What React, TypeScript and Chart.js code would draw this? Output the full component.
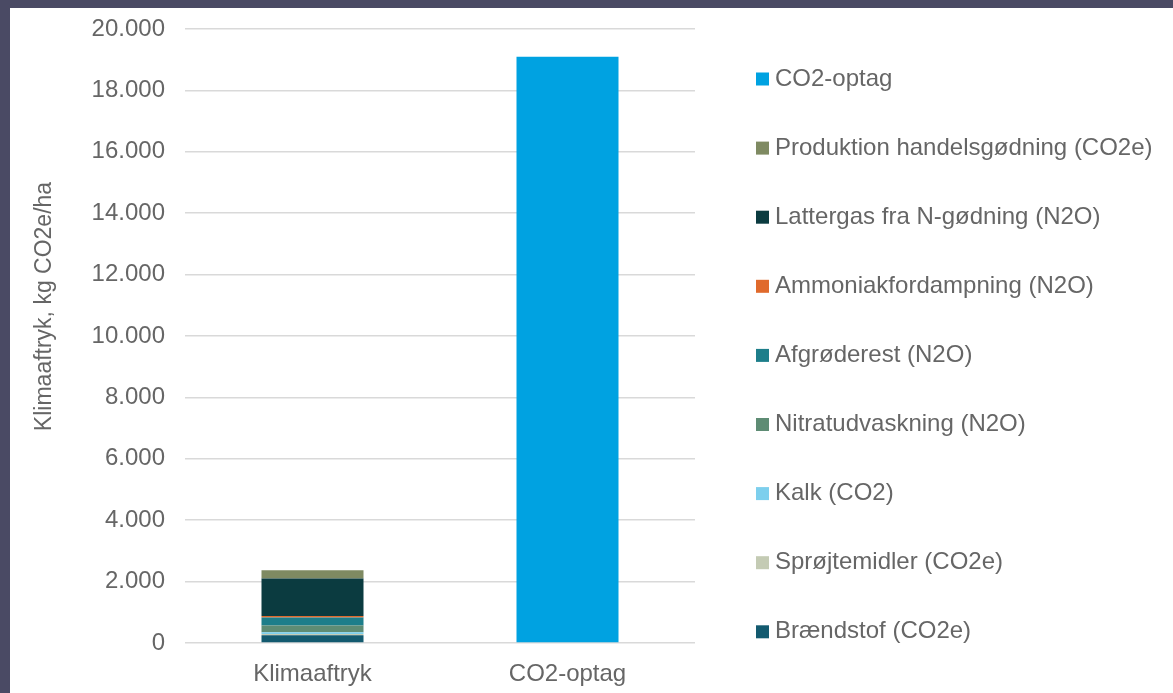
import React, { useEffect, useRef } from 'react';
import { Chart, registerables } from 'chart.js';

Chart.register(...registerables);

const categories = ['Klimaaftryk', 'CO2-optag'];

const seriesLabels = [
  'Brændstof (CO2e)',
  'Sprøjtemidler (CO2e)',
  'Kalk (CO2)',
  'Nitratudvaskning (N2O)',
  'Afgrøderest (N2O)',
  'Ammoniakfordampning (N2O)',
  'Lattergas fra N-gødning (N2O)',
  'Produktion handelsgødning (CO2e)',
  'CO2-optag',
];

const braendstof = [250, null];
const sproejtemidler = [40, null];
const kalk = [60, null];
const nitratudvaskning = [220, null];
const afgroederest = [260, null];
const ammoniakfordampning = [50, null];
const lattergas = [1220, null];
const produktionHandelsgoedning = [270, null];
const co2Optag = [null, 19100];

const seriesValues = [
  braendstof,
  sproejtemidler,
  kalk,
  nitratudvaskning,
  afgroederest,
  ammoniakfordampning,
  lattergas,
  produktionHandelsgoedning,
  co2Optag,
];

const seriesColors = [
  '#135a6f',
  '#c4cbb4',
  '#7dcfed',
  '#5e8c74',
  '#1d7e8a',
  '#e06a2c',
  '#0b3b40',
  '#7f8a62',
  '#00a2e1',
];

const yTicks = [0, 2000, 4000, 6000, 8000, 10000, 12000, 14000, 16000, 18000, 20000];
const yTitle = 'Klimaaftryk, kg CO2e/ha';

const FONT = '"Liberation Sans", Arial, sans-serif';
const TEXT = '#666666';

const fmt = (v: number) => String(v).replace(/\B(?=(\d{3})+(?!\d))/g, '.');

const sidePlugin = {
  id: 'sideLegendAndTitle',
  afterDraw(chart: any) {
    const { ctx, chartArea } = chart;
    // y-axis title
    ctx.save();
    ctx.font = `23px ${FONT}`;
    ctx.fillStyle = TEXT;
    ctx.translate(35, 298.5);
    ctx.rotate(-Math.PI / 2);
    ctx.textAlign = 'center';
    ctx.textBaseline = 'middle';
    ctx.fillText(yTitle, 0, 0);
    ctx.restore();

    // legend (reverse order, one column)
    const ds = chart.data.datasets.slice().reverse();
    ctx.save();
    ctx.font = `24px ${FONT}`;
    ctx.textAlign = 'left';
    ctx.textBaseline = 'middle';
    ds.forEach((d: any, i: number) => {
      const y = chartArea.top + 50 + i * 69.1;
      const x = chartArea.right + 61;
      ctx.fillStyle = d.backgroundColor;
      ctx.fillRect(x, y - 6.5, 13, 13);
      ctx.fillStyle = TEXT;
      ctx.fillText(d.label, x + 19, y);
    });
    ctx.restore();
  },
};

export default function App() {
  const canvasRef = useRef<HTMLCanvasElement | null>(null);

  useEffect(() => {
    const canvas = canvasRef.current;
    if (!canvas) return;
    const chart = new Chart(canvas, {
      type: 'bar',
      data: {
        labels: categories,
        datasets: seriesLabels.map((label, i) => ({
          label,
          data: seriesValues[i],
          backgroundColor: seriesColors[i],
          borderWidth: 0,
          barPercentage: 0.8,
          categoryPercentage: 0.5,
        })),
      },
      options: {
        responsive: false,
        animation: false,
        devicePixelRatio: 1,
        layout: { padding: { top: 21, right: 478, bottom: 0, left: 0 } },
        plugins: {
          legend: { display: false },
          tooltip: { enabled: false },
          title: { display: false },
        },
        scales: {
          x: {
            stacked: true,
            grid: { display: false },
            border: { display: false },
            ticks: {
              color: TEXT,
              font: { family: FONT, size: 24 },
              padding: 9,
            },
            afterFit: (s: any) => {
              s.height = 50;
            },
          },
          y: {
            stacked: true,
            min: 0,
            max: 20000,
            afterBuildTicks: (s: any) => {
              s.ticks = yTicks.map((v) => ({ value: v }));
            },
            grid: { color: '#d9d9d9', lineWidth: 1.5, drawTicks: false },
            border: { display: false },
            ticks: {
              color: TEXT,
              font: { family: FONT, size: 24 },
              padding: 20,
              callback: (v: any) => fmt(Number(v)),
            },
            afterFit: (s: any) => {
              s.width = 175;
              s.paddingTop = 0;
              s.paddingBottom = 0;
            },
          },
        },
      },
      plugins: [sidePlugin],
    });
    return () => chart.destroy();
  }, []);

  return (
    <div style={{ position: 'fixed', left: 0, top: 0, width: 1173, height: 693, background: '#4a4a64' }}>
      <div style={{ position: 'absolute', left: 10, top: 8, width: 1163, height: 685, background: '#ffffff' }}>
        <canvas ref={canvasRef} width={1163} height={685} style={{ display: 'block' }} />
      </div>
    </div>
  );
}
